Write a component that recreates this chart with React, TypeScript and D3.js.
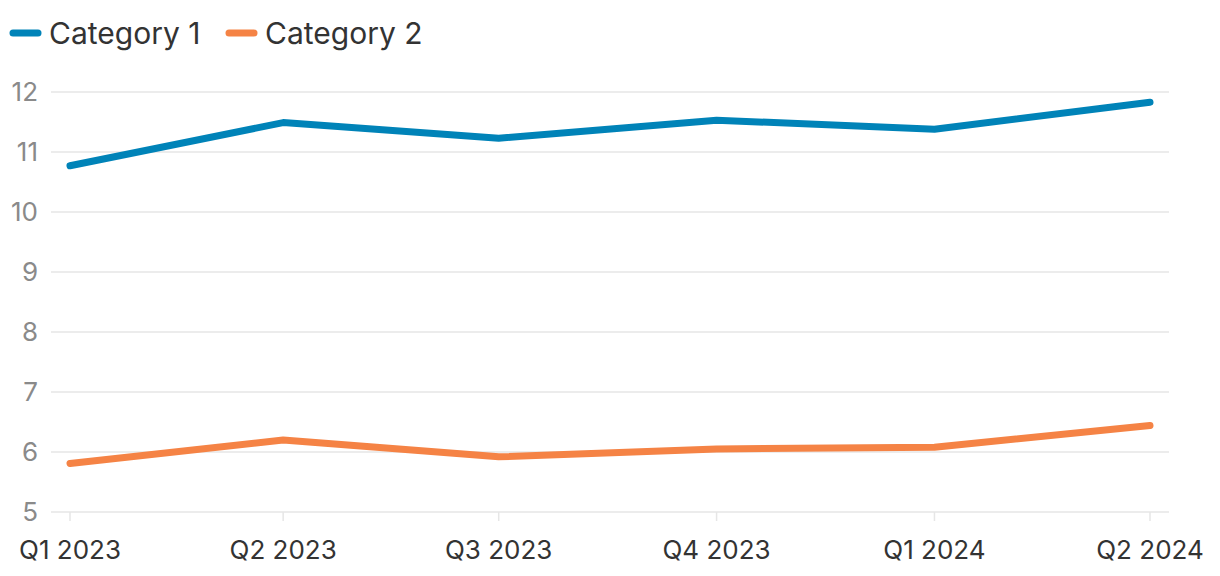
import React from "react";
import * as d3 from "d3";

const quarters = ["Q1 2023", "Q2 2023", "Q3 2023", "Q4 2023", "Q1 2024", "Q2 2024"];
const quarterDates = ["2023-01-01", "2023-04-01", "2023-07-01", "2023-10-01", "2024-01-01", "2024-04-01"];
const category1 = [10.77, 11.49, 11.23, 11.53, 11.38, 11.83];
const category2 = [5.81, 6.2, 5.92, 6.05, 6.08, 6.44];
const yTicks = [5, 6, 7, 8, 9, 10, 11, 12];
const seriesNames = ["Category 1", "Category 2"];
const colors = ["#0083B8", "#F58345"];

const W = 1220;
const H = 576;
const FONT = "Inter, 'Noto Sans', sans-serif";

export default function App() {
  const parse = d3.utcParse("%Y-%m-%d");
  const dates = quarterDates.map((d) => parse(d) as Date);
  const x = d3.scaleUtc().domain([dates[0], dates[dates.length - 1]]).range([70, 1150]);
  const y = d3.scaleLinear().domain([5, 12]).range([512, 92]);
  const series = [category1, category2];
  const line = d3
    .line<number>()
    .x((_, i) => x(dates[i]))
    .y((v) => y(v));

  const legendX = [10, 226];

  return (
    <svg width={W} height={H} style={{ position: "absolute", left: 0, top: 0, background: "#fff" }}>
      {yTicks.map((t) => (
        <g key={t}>
          <line x1={51} x2={1169} y1={y(t)} y2={y(t)} stroke="#e6e6e6" strokeWidth={1.5} />
          <text x={38} y={y(t)} dy="0.36em" textAnchor="end" fontFamily={FONT} fontSize={26} fill="#8a8a8a">
            {t}
          </text>
        </g>
      ))}
      {quarters.map((q, i) => (
        <g key={q}>
          <line x1={x(dates[i])} x2={x(dates[i])} y1={512} y2={521} stroke="#e6e6e6" strokeWidth={1.5} />
          <text x={x(dates[i])} y={559} textAnchor="middle" fontFamily={FONT} fontSize={26} fill="#333">
            {q}
          </text>
        </g>
      ))}
      {series.map((s, i) => (
        <path
          key={i}
          d={line(s) || ""}
          fill="none"
          stroke={colors[i]}
          strokeWidth={7}
          strokeLinecap="round"
          strokeLinejoin="round"
        />
      ))}
      {seriesNames.map((n, i) => (
        <g key={n}>
          <line x1={legendX[i] + 3} x2={legendX[i] + 28} y1={33} y2={33} stroke={colors[i]} strokeWidth={7} strokeLinecap="round" />
          <text x={legendX[i] + 39} y={33} dy="0.36em" fontFamily={FONT} fontSize={30} fill="#333">
            {n}
          </text>
        </g>
      ))}
    </svg>
  );
}
